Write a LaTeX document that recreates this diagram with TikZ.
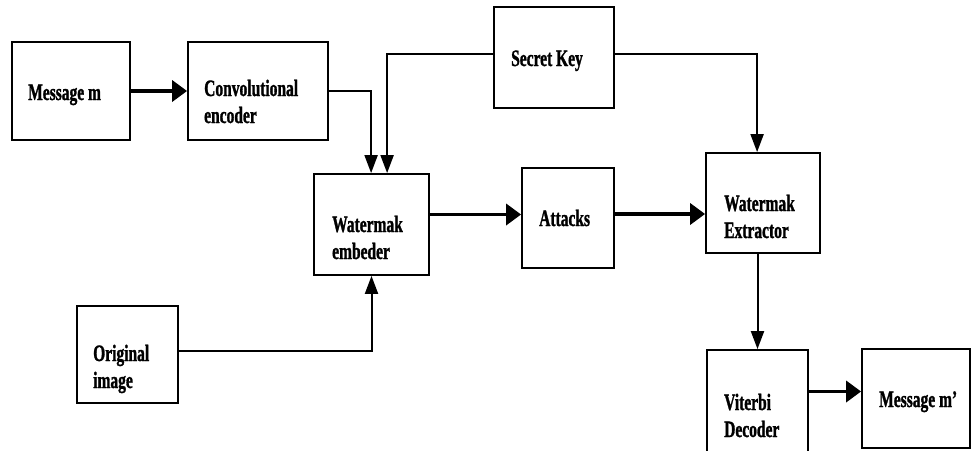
\documentclass[tikz,border=0pt]{standalone}
\usepackage{fontspec}
\newfontfamily\blkfont[FakeStretch=0.66, FakeBold=1.2]{Liberation Serif}
\usetikzlibrary{arrows.meta}

\tikzset{
  blk/.style={draw, line width=1.8pt, inner sep=0pt},
  lbl/.style={anchor=base west, inner sep=0pt, align=left,
    font=\blkfont\bfseries\fontsize{23.5}{27}\selectfont},
  thn/.style={line width=2pt, -{Triangle[length=18pt,width=13pt]}},
  thk/.style={line width=3.6pt, -{Triangle[length=15pt,width=21pt]}}
}

\begin{document}
\begin{tikzpicture}[x=1pt, y=-1pt]
    \useasboundingbox (0,0) rectangle (972,450);
    \clip (0,0) rectangle (972,450);

    % Blocks
    \node[blk, minimum width=118pt, minimum height=98pt] (msg) at (71,91) {};
    \node[blk, minimum width=140pt, minimum height=98pt] (conv) at (258,91) {};
    \node[blk, minimum width=120pt, minimum height=101pt] (key) at (554,57.5) {};
    \node[blk, minimum width=115pt, minimum height=101pt] (emb) at (371.5,224.5) {};
    \node[blk, minimum width=92pt, minimum height=100pt] (att) at (568,218) {};
    \node[blk, minimum width=114pt, minimum height=100pt] (ext) at (763,203) {};
    \node[blk, minimum width=101pt, minimum height=97pt] (orig) at (127.5,354.5) {};
    \node[blk, minimum width=101pt, minimum height=120pt] (vit) at (757.5,410) {};
    \node[blk, minimum width=108pt, minimum height=99pt] (msgo) at (916,398.5) {};

    % Texts (base = last line)
    \node[lbl] (msgt) at (28,100) {Message m};
    \node[lbl] (convt) at (204,123) {Convolutional\\encoder};
    \node[lbl] (keyt) at (511,66) {Secret Key};
    \node[lbl] (embt) at (332,259) {Watermak\\embeder};
    \node[lbl] (attt) at (539,226) {Attacks};
    \node[lbl] (extt) at (724,238) {Watermak\\Extractor};
    \node[lbl] (origt) at (93,388) {Original\\image};
    \node[lbl] (vitt) at (724,437) {Viterbi\\Decoder};
    \node[lbl] (msgot) at (879,407) {Message m’};

    % Connectors
    \draw[thk] (msg) -- (conv);
    \draw[thn] (conv.east) -| ([xshift=58pt]emb.north west);
    \draw[thn] ([yshift=4pt]key.west) -| ([xshift=74pt]emb.north west);
    \draw[thn] ([yshift=4pt]key.east) -| ([xshift=52pt]ext.north west);
    \draw[thk] ([yshift=10pt]emb.east) -- ([yshift=10pt]emb.east -| att.west);
    \draw[thk] ([yshift=4pt]att.east) -- ([yshift=4pt]att.east -| ext.west);
    \draw[thn] ([yshift=4pt]orig.east) -| (emb.south);
    \draw[thn] (vit.north |- ext.south) -- (vit.north);
    \draw[thk] ([yshift=7pt]msgo.west -| vit.east) -- ([yshift=7pt]msgo.west);
\end{tikzpicture}
\end{document}
